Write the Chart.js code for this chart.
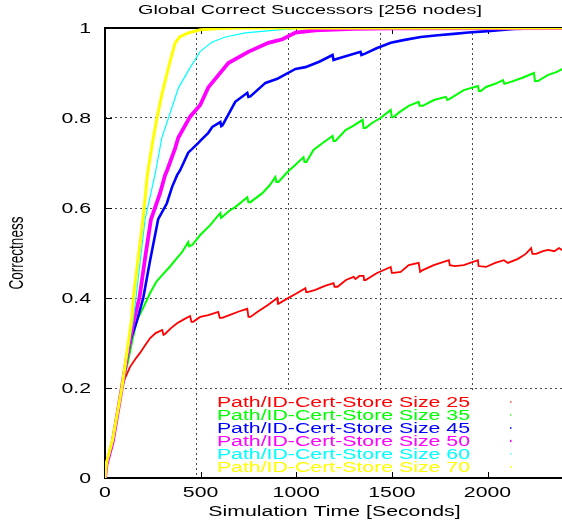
<!DOCTYPE html>
<html>
<head>
<meta charset="utf-8">
<script src="https://cdn.jsdelivr.net/npm/chart.js@4.4.1/dist/chart.umd.min.js"></script>
<style>
html, body { margin: 0; padding: 0; background: #fff; overflow: hidden; }
canvas { display: block; }
</style>
</head>
<body>
<canvas id="chart" width="564" height="524"></canvas>
<script>
// series (time in seconds, correctness 0..1)
const seriesLabels = [
  'Path/ID-Cert-Store Size 25',
  'Path/ID-Cert-Store Size 35',
  'Path/ID-Cert-Store Size 45',
  'Path/ID-Cert-Store Size 50',
  'Path/ID-Cert-Store Size 60',
  'Path/ID-Cert-Store Size 70'
];
const seriesColors = ['#ff0000', '#00ff00', '#0000ff', '#ff00ff', '#00ffff', '#ffff00'];
const seriesWidths = [1.8, 2, 2.6, 3.8, 1.2, 3];

const xTicks = [0, 500, 1000, 1500, 2000];
const yTicks = [0, 0.2, 0.4, 0.6, 0.8, 1];

const time25 = [0, 8, 40, 88, 105, 131, 160, 183, 210, 236, 265, 299, 306, 314, 345, 377, 410, 445, 452, 461, 498, 540, 592, 600, 613, 650, 700, 744, 750, 760, 800, 850, 901, 904, 907, 950, 996, 1048, 1052, 1059, 1100, 1150, 1195, 1200, 1216, 1260, 1300, 1310, 1330, 1352, 1355, 1363, 1420, 1494, 1500, 1509, 1546, 1588, 1640, 1648, 1661, 1719, 1798, 1803, 1830, 1876, 1950, 1953, 1992, 2040, 2086, 2107, 2159, 2200, 2228, 2235, 2254, 2290, 2317, 2350, 2374, 2400];
const corr25 = [0, 0.03, 0.08, 0.2, 0.222, 0.247, 0.265, 0.278, 0.295, 0.311, 0.322, 0.329, 0.318, 0.32, 0.333, 0.344, 0.352, 0.36, 0.347, 0.347, 0.358, 0.362, 0.369, 0.356, 0.356, 0.362, 0.37, 0.376, 0.358, 0.358, 0.37, 0.384, 0.4, 0.387, 0.387, 0.398, 0.409, 0.422, 0.413, 0.413, 0.418, 0.427, 0.433, 0.425, 0.425, 0.44, 0.447, 0.442, 0.449, 0.449, 0.44, 0.44, 0.455, 0.469, 0.456, 0.456, 0.458, 0.473, 0.478, 0.458, 0.462, 0.473, 0.484, 0.473, 0.471, 0.473, 0.484, 0.471, 0.469, 0.478, 0.484, 0.478, 0.487, 0.498, 0.511, 0.498, 0.498, 0.504, 0.507, 0.504, 0.511, 0.504];

const time35 = [0, 8, 40, 88, 121, 145, 168, 194, 236, 270, 299, 340, 377, 400, 435, 440, 456, 498, 550, 577, 603, 607, 613, 650, 681, 744, 750, 760, 823, 860, 891, 896, 907, 954, 996, 1038, 1043, 1053, 1090, 1140, 1190, 1195, 1205, 1258, 1300, 1347, 1352, 1363, 1400, 1441, 1494, 1500, 1509, 1540, 1588, 1640, 1645, 1661, 1720, 1782, 1790, 1800, 1876, 1950, 1955, 1965, 1992, 2040, 2081, 2088, 2107, 2180, 2243, 2248, 2264, 2317, 2360, 2400];
const corr35 = [0, 0.03, 0.08, 0.2, 0.26, 0.31, 0.351, 0.373, 0.411, 0.437, 0.451, 0.47, 0.489, 0.5, 0.524, 0.515, 0.518, 0.54, 0.562, 0.576, 0.589, 0.578, 0.58, 0.594, 0.602, 0.624, 0.613, 0.613, 0.633, 0.65, 0.669, 0.658, 0.658, 0.68, 0.696, 0.713, 0.702, 0.702, 0.729, 0.745, 0.76, 0.749, 0.749, 0.773, 0.783, 0.796, 0.778, 0.778, 0.79, 0.8, 0.818, 0.802, 0.802, 0.813, 0.827, 0.836, 0.827, 0.827, 0.84, 0.847, 0.84, 0.842, 0.862, 0.871, 0.86, 0.86, 0.869, 0.876, 0.884, 0.876, 0.878, 0.889, 0.9, 0.882, 0.882, 0.896, 0.902, 0.911];

const time45 = [0, 8, 40, 88, 115, 140, 168, 200, 236, 278, 323, 351, 377, 393, 435, 487, 498, 540, 561, 603, 608, 615, 681, 744, 750, 760, 839, 901, 917, 996, 1048, 1120, 1190, 1195, 1210, 1336, 1341, 1360, 1420, 1494, 1560, 1651, 1740, 1824, 1900, 2002, 2138, 2250, 2400];
const corr45 = [0, 0.03, 0.08, 0.2, 0.27, 0.315, 0.351, 0.4, 0.484, 0.575, 0.61, 0.647, 0.673, 0.684, 0.723, 0.744, 0.749, 0.767, 0.78, 0.791, 0.782, 0.784, 0.836, 0.856, 0.847, 0.848, 0.878, 0.887, 0.891, 0.909, 0.913, 0.925, 0.94, 0.929, 0.931, 0.947, 0.94, 0.943, 0.955, 0.967, 0.973, 0.98, 0.984, 0.987, 0.99, 0.993, 0.998, 0.999, 1];

const time50 = [0, 8, 40, 88, 115, 150, 180, 210, 240, 288, 314, 325, 367, 383, 445, 498, 540, 645, 749, 854, 928, 996, 1100, 1300, 1500, 2400];
const corr50 = [0, 0.03, 0.08, 0.2, 0.27, 0.35, 0.4, 0.49, 0.574, 0.633, 0.673, 0.684, 0.733, 0.756, 0.803, 0.829, 0.868, 0.922, 0.947, 0.967, 0.975, 0.99, 0.995, 0.998, 0.999, 1];

const time60 = [0, 8, 40, 88, 147, 162, 210, 262, 297, 332, 384, 445, 498, 540, 561, 629, 734, 907, 1000, 1200, 2400];
const corr60 = [0, 0.03, 0.08, 0.2, 0.351, 0.4, 0.576, 0.675, 0.756, 0.8, 0.867, 0.912, 0.948, 0.962, 0.969, 0.98, 0.989, 0.996, 0.999, 1, 1];

const time70 = [0, 8, 40, 88, 141, 148, 199, 222, 250, 272, 297, 325, 341, 367, 390, 435, 498, 600, 700, 2400];
const corr70 = [0, 0.035, 0.085, 0.2, 0.358, 0.4, 0.576, 0.675, 0.75, 0.8, 0.852, 0.9, 0.927, 0.967, 0.98, 0.989, 0.996, 0.999, 1, 1];

const seriesTimes = [time25, time35, time45, time50, time60, time70];
const seriesCorr = [corr25, corr35, corr45, corr50, corr60, corr70];

const FONT = '"Liberation Sans", Arial, sans-serif';
const SX = 1.52; // the original picture is stretched sideways

function wideText(ctx, txt, x, y, size, color, align, rotate) {
  ctx.save();
  ctx.font = size + 'px ' + FONT;
  ctx.fillStyle = color;
  ctx.textAlign = align;
  ctx.textBaseline = 'alphabetic';
  ctx.translate(x, y);
  ctx.scale(SX, 1);
  if (rotate) ctx.rotate(-Math.PI / 2);
  ctx.fillText(txt, 0, 0);
  ctx.restore();
}

// gnuplot style frame, key box, and all labels
const gnuplotLook = {
  id: 'gnuplotLook',
  beforeDatasetsDraw(chart) {
    const { ctx, chartArea: a, scales: { x, y } } = chart;
    ctx.save();
    ctx.fillStyle = '#fff';
    ctx.fillRect(198, 392, a.right - 198, 84);
    ctx.strokeStyle = '#000';
    ctx.lineWidth = 2;
    ctx.beginPath();
    ctx.moveTo(a.right, a.top);
    ctx.lineTo(a.left, a.top);
    ctx.lineTo(a.left, a.bottom);
    ctx.lineTo(a.right, a.bottom);
    ctx.stroke();
    ctx.lineWidth = 1;
    ctx.beginPath();
    xTicks.forEach(v => {
      const px = Math.round(x.getPixelForValue(v)) + 0.5;
      ctx.moveTo(px, a.bottom); ctx.lineTo(px, a.bottom - 6);
      ctx.moveTo(px, a.top); ctx.lineTo(px, a.top + 6);
    });
    yTicks.forEach(v => {
      const py = Math.round(y.getPixelForValue(v)) + 0.5;
      ctx.moveTo(a.left, py); ctx.lineTo(a.left + 7, py);
    });
    ctx.stroke();
    ctx.restore();
  },
  afterDraw(chart) {
    const { ctx, chartArea: a, scales: { x, y } } = chart;
    wideText(ctx, 'Global Correct Successors [256 nodes]', 310, 13.5, 13, '#000', 'center');
    xTicks.forEach(v => {
      wideText(ctx, String(v), x.getPixelForValue(v), 496.5, 14, '#000', 'center');
    });
    yTicks.forEach(v => {
      wideText(ctx, String(Number(v.toFixed(1))), 91, y.getPixelForValue(v) + 5, 14, '#000', 'right');
    });
    wideText(ctx, 'Simulation Time [Seconds]', (a.left + a.right) / 2, 516, 14, '#000', 'center');
    wideText(ctx, 'Correctness', 23, (a.top + a.bottom) / 2, 13.5, '#000', 'center', true);
    seriesLabels.forEach((label, i) => {
      const by = 407 + 13 * i;
      wideText(ctx, label, 470, by, 14, seriesColors[i], 'right');
      // gnuplot's key sample came out as a tiny dot
      ctx.save();
      ctx.fillStyle = seriesColors[i];
      const s = Math.max(1, seriesWidths[i] * 0.6);
      ctx.fillRect(510, by - 5 - s / 2, 1.5, s);
      ctx.restore();
    });
  }
};

const hideEdge = (edges) => (c) =>
  (c.tick && edges.some(e => Math.abs(c.tick.value - e) < 1e-9)) ? 'rgba(0,0,0,0)' : '#4a4a4a';

new Chart(document.getElementById('chart'), {
  type: 'line',
  data: {
    datasets: seriesLabels.map((label, i) => ({
      label: label,
      data: seriesTimes[i].map((t, k) => ({ x: t, y: seriesCorr[i][k] })),
      borderColor: seriesColors[i],
      backgroundColor: seriesColors[i],
      borderWidth: seriesWidths[i],
      pointRadius: 0,
      tension: 0,
      fill: false,
      order: seriesLabels.length - i
    }))
  },
  options: {
    responsive: false,
    animation: false,
    layout: { padding: { left: 105, right: 0, top: 28, bottom: 46 } },
    plugins: {
      legend: { display: false },
      tooltip: { enabled: false },
      title: { display: false }
    },
    scales: {
      x: {
        type: 'linear', min: 0, max: 2400,
        ticks: { stepSize: 500, display: false, includeBounds: false },
        grid: { color: hideEdge([0]), lineWidth: 1, drawTicks: false },
        border: { display: false, dash: [2, 3] }
      },
      y: {
        type: 'linear', min: 0, max: 1,
        ticks: { stepSize: 0.2, display: false },
        grid: { color: hideEdge([0, 1]), lineWidth: 1, drawTicks: false },
        border: { display: false, dash: [2, 3] }
      }
    }
  },
  plugins: [gnuplotLook]
});
</script>
</body>
</html>
